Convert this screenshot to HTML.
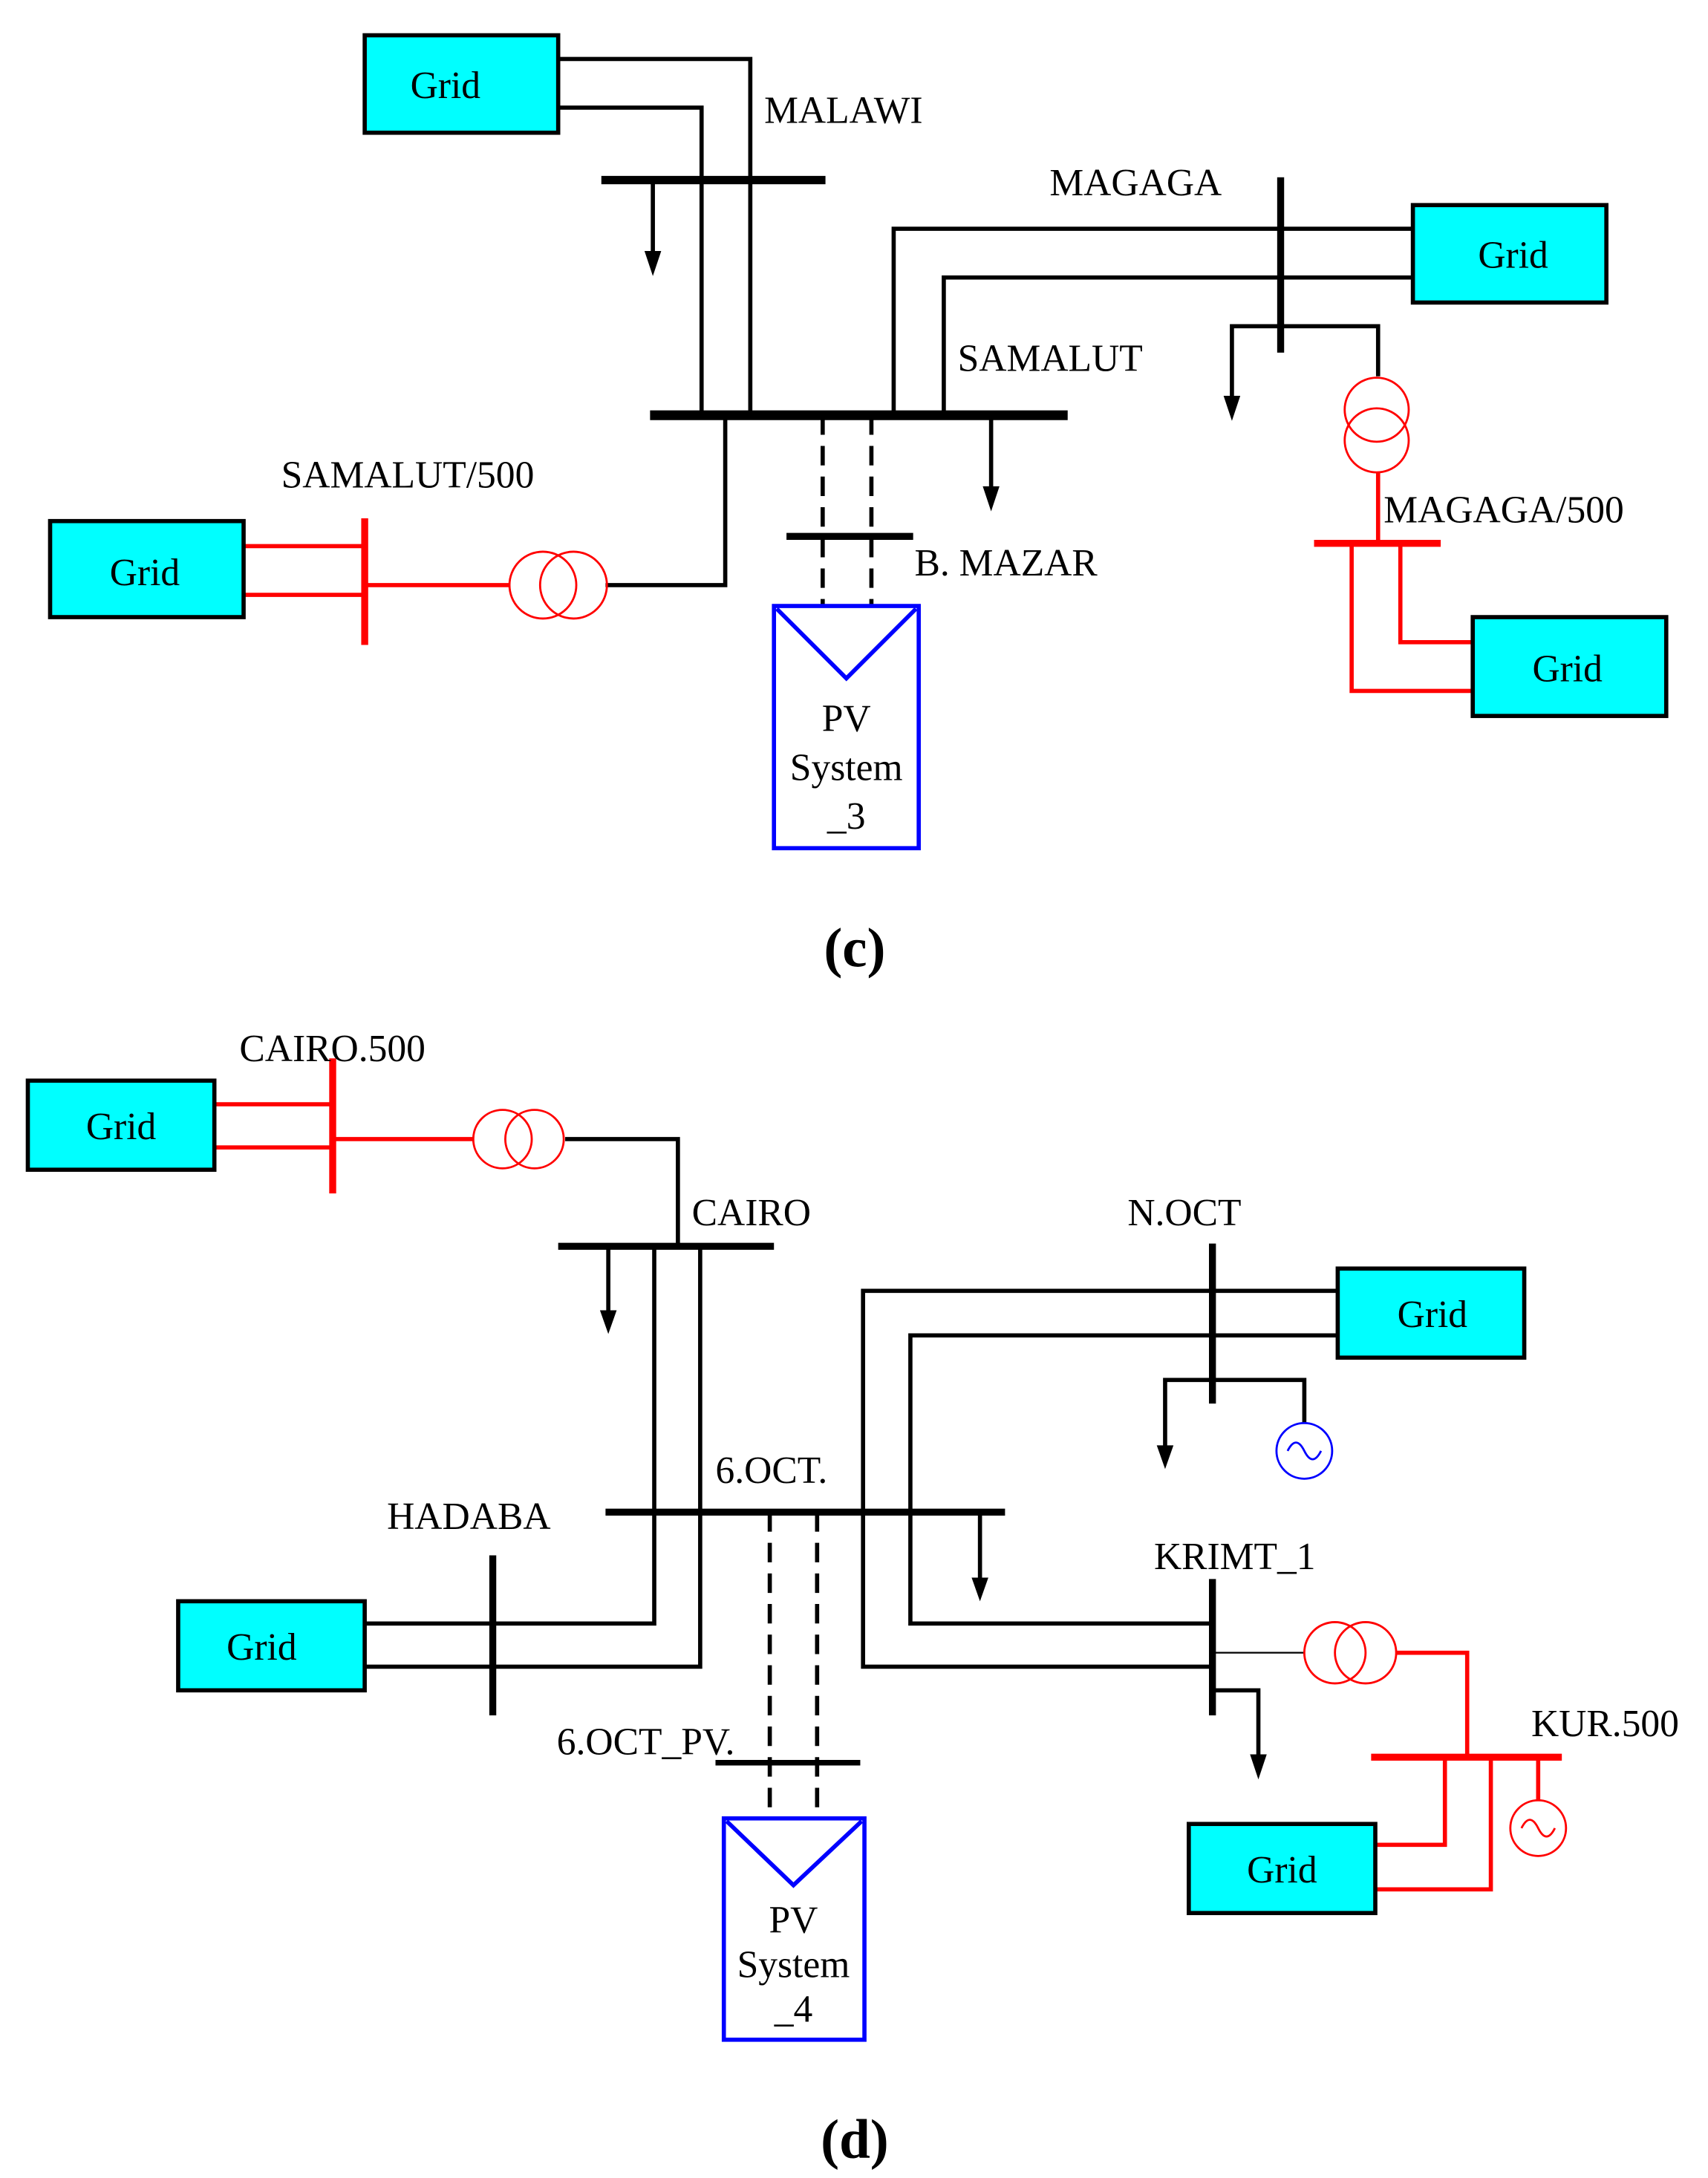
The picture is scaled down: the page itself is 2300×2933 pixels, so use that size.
<!DOCTYPE html>
<html><head><meta charset="utf-8"><style>html,body{margin:0;padding:0;background:#fff}svg{display:block}text{font-family:"Liberation Serif",serif}</style></head><body>
<svg width="2300" height="2933" viewBox="0 0 1227 1564" xmlns="http://www.w3.org/2000/svg" font-size="27.5">
<g fill="none" stroke="#000" stroke-width="3">
<polyline points="401,42 539,42 539,298"/>
<polyline points="401,77 504,77 504,298"/>
<line x1="432" y1="129" x2="593" y2="129" stroke-width="6"/>
<line x1="469" y1="129" x2="469" y2="184"/>
<path d="M463,180 L475,180 L469,198 z" fill="#000" stroke="none"/>
<line x1="467" y1="298" x2="767" y2="298" stroke-width="7"/>
<line x1="920" y1="127" x2="920" y2="253" stroke-width="5"/>
<polyline points="642,298 642,164 1015,164"/>
<polyline points="678,298 678,199 1015,199"/>
<polyline points="885,290 885,234 990,234 990,270"/>
<path d="M879,284 L891,284 L885,302 z" fill="#000" stroke="none"/>
<line x1="712" y1="298" x2="712" y2="352"/>
<path d="M706,349 L718,349 L712,367 z" fill="#000" stroke="none"/>
<polyline points="521,298 521,420 435,420"/>
<line x1="591" y1="298" x2="591" y2="435" stroke-dasharray="14,8"/>
<line x1="626" y1="298" x2="626" y2="435" stroke-dasharray="14,8"/>
<line x1="565" y1="385" x2="656" y2="385" stroke-width="5"/>
<polyline points="406,818 487,818 487,895"/>
<line x1="401" y1="895" x2="556" y2="895" stroke-width="5"/>
<line x1="437" y1="895" x2="437" y2="944"/>
<path d="M431,941 L443,941 L437,958 z" fill="#000" stroke="none"/>
<polyline points="470,895 470,1166 253,1166"/>
<polyline points="503,895 503,1197 253,1197"/>
<line x1="354" y1="1117" x2="354" y2="1232" stroke-width="5"/>
<line x1="435" y1="1086" x2="722" y2="1086" stroke-width="5"/>
<line x1="704" y1="1086" x2="704" y2="1136"/>
<path d="M698,1133 L710,1133 L704,1150 z" fill="#000" stroke="none"/>
<polyline points="961,927 620,927 620,1197 871,1197"/>
<polyline points="961,959 654,959 654,1166 871,1166"/>
<line x1="871" y1="893" x2="871" y2="1008" stroke-width="5"/>
<polyline points="837,1041 837,991 937,991 937,1022"/>
<path d="M831,1038 L843,1038 L837,1055 z" fill="#000" stroke="none"/>
<line x1="871" y1="1134" x2="871" y2="1232" stroke-width="5"/>
<line x1="871" y1="1187" x2="937" y2="1187" stroke-width="1.2"/>
<polyline points="871,1214 904,1214 904,1263"/>
<path d="M898,1260 L910,1260 L904,1278 z" fill="#000" stroke="none"/>
<line x1="553" y1="1086" x2="553" y2="1306" stroke-dasharray="14,8"/>
<line x1="587" y1="1086" x2="587" y2="1306" stroke-dasharray="14,8"/>
<line x1="514" y1="1266" x2="618" y2="1266" stroke-width="4"/>
</g>
<g fill="none" stroke="#f00" stroke-width="3">
<circle cx="989" cy="294" r="23" stroke-width="1.5"/><circle cx="989" cy="316" r="23" stroke-width="1.5"/>
<line x1="990" y1="339" x2="990" y2="390"/>
<line x1="944" y1="390" x2="1035" y2="390" stroke-width="5"/>
<polyline points="971,390 971,496 1058,496"/>
<polyline points="1006,390 1006,461 1058,461"/>
<circle cx="390" cy="420" r="24" stroke-width="1.5"/><circle cx="412" cy="420" r="24" stroke-width="1.5"/>
<line x1="366" y1="420" x2="262" y2="420"/>
<line x1="262" y1="372" x2="262" y2="463" stroke-width="5"/>
<line x1="176" y1="392" x2="262" y2="392"/><line x1="176" y1="427" x2="262" y2="427"/>
<line x1="154" y1="793" x2="239" y2="793"/><line x1="154" y1="824" x2="239" y2="824"/>
<line x1="239" y1="760" x2="239" y2="857" stroke-width="5"/>
<line x1="239" y1="818" x2="340" y2="818"/>
<circle cx="361" cy="818" r="21" stroke-width="1.5"/><circle cx="384" cy="818" r="21" stroke-width="1.5"/>
<circle cx="959" cy="1187" r="22" stroke-width="1.5"/><circle cx="981" cy="1187" r="22" stroke-width="1.5"/>
<polyline points="1003,1187 1054,1187 1054,1262"/>
<line x1="985" y1="1262" x2="1122" y2="1262" stroke-width="5"/>
<polyline points="1038,1262 1038,1325 988,1325"/>
<polyline points="1071,1262 1071,1357 988,1357"/>
<line x1="1105" y1="1262" x2="1105" y2="1293"/>
<circle cx="1105" cy="1313" r="20" stroke-width="1.5"/>
<path d="M1093,1313 Q1099,1301 1105,1313 T1117,1313" stroke-width="1.5"/>
</g>
<g fill="none" stroke="#00f" stroke-width="3">
<circle cx="937" cy="1042" r="20" stroke-width="1.5"/>
<path d="M925,1042 Q931,1030 937,1042 T949,1042" stroke-width="1.5"/>
<rect x="556" y="435" width="104" height="174"/>
<polyline points="558,437 608,487 658,437"/>
<rect x="520" y="1306" width="101" height="159"/>
<polyline points="522,1308 570,1354 619,1308"/>
</g>
<g fill="#00ffff" stroke="#000" stroke-width="3">
<rect x="262" y="25" width="139" height="70"/>
<rect x="1015" y="147" width="139" height="70"/>
<rect x="1058" y="443" width="139" height="71"/>
<rect x="36" y="374" width="139" height="69"/>
<rect x="20" y="776" width="134" height="64"/>
<rect x="128" y="1150" width="134" height="64"/>
<rect x="961" y="911" width="134" height="64"/>
<rect x="854" y="1310" width="134" height="64"/>
</g>
<g fill="#000" text-anchor="middle">
<text x="320" y="70">Grid</text><text x="1087" y="192">Grid</text><text x="1126" y="489">Grid</text><text x="104" y="420">Grid</text>
<text x="87" y="818">Grid</text><text x="188" y="1192">Grid</text><text x="1029" y="953">Grid</text><text x="921" y="1352">Grid</text>
<text x="608" y="525">PV</text><text x="608" y="560">System</text><text x="608" y="595">_3</text>
<text x="570" y="1388">PV</text><text x="570" y="1420">System</text><text x="570" y="1452">_4</text>
<text x="614" y="694" font-size="40" font-weight="bold">(c)</text>
<text x="614" y="1550" font-size="40" font-weight="bold">(d)</text>
</g>
<g fill="#000">
<text x="549" y="88">MALAWI</text><text x="754" y="140">MAGAGA</text><text x="688" y="266">SAMALUT</text>
<text x="202" y="350">SAMALUT/500</text><text x="994" y="375">MAGAGA/500</text><text x="657" y="413">B. MAZAR</text>
<text x="172" y="762">CAIRO.500</text><text x="497" y="880">CAIRO</text><text x="810" y="880">N.OCT</text>
<text x="514" y="1065">6.OCT.</text><text x="278" y="1098">HADABA</text><text x="829" y="1127">KRIMT_1</text>
<text x="1100" y="1247">KUR.500</text><text x="400" y="1260">6.OCT_PV.</text>
</g>
</svg>
</body></html>
